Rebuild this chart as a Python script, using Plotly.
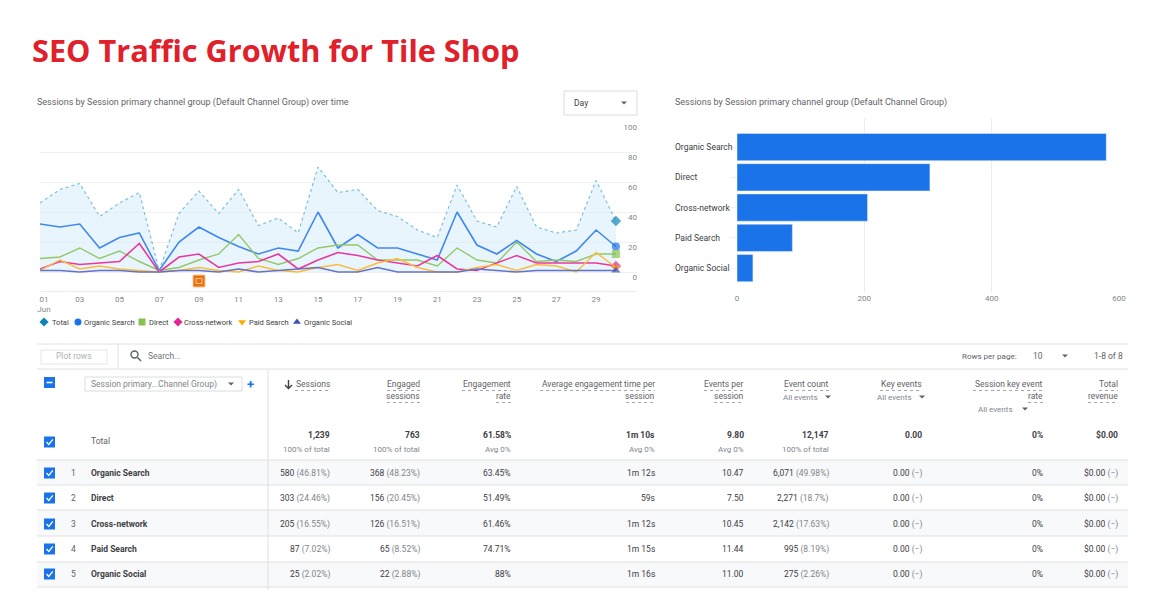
"""
GA4 traffic report screenshot rebuilt in Plotly
Line chart, bar chart and the channel table below them
"""

import plotly.graph_objects as go

# Line chart data
days = list(range(1, 31))
day_ticks = list(range(1, 30, 2))
day_labels = ["\u00a0\u00a0\u00a0\u00a001<br>\u00a0\u00a0\u00a0\u00a0Jun", "03", "05", "07", "09", "11", "13", "15", "17", "19", "21", "23", "25", "27", "29"]
total = [46, 55, 59, 37, 46, 53, 1, 39, 54, 39, 55, 31, 36, 26, 70, 53, 55, 41, 37, 28, 23, 58, 34, 30, 57, 30, 26, 28, 61, 34]
organic_search = [32, 30, 32, 16, 23, 26, 1, 20, 30, 23, 17, 12, 16, 14, 40, 16, 25, 16, 16, 12, 8, 40, 18, 12, 21, 12, 7, 14, 28, 17]
direct = [9, 10, 16, 9, 14, 7, 1, 3, 8, 12, 25, 9, 5, 9, 16, 18, 18, 8, 8, 8, 4, 16, 8, 6, 20, 7, 8, 7, 12, 12]
cross_network = [2, 7, 5, 6, 7, 19, 0, 10, 12, 3, 6, 7, 12, 2, 8, 13, 11, 8, 6, 4, 11, 2, 1, 6, 11, 6, 6, 6, 6, 4]
paid_search = [1, 8, 2, 4, 2, 1, 0, 1, 3, 1, 0, 4, 1, 0, 3, 5, 1, 6, 9, 3, 0, 0, 3, 5, 1, 5, 4, 0, 13, 3]
organic_social = [1, 1, 0, 1, 1, 0, 0, 1, 1, 0, 2, 0, 1, 2, 3, 0, 0, 3, 0, 0, 0, 0, 2, 1, 0, 1, 1, 1, 1, 1]

# Bar chart data
channels = ["Organic Search", "Direct", "Cross-network", "Paid Search", "Organic Social"]
channel_sessions = [580, 303, 205, 87, 25]

# Table data
col_right = [330, 420, 511, 655, 744, 829, 922, 1043, 1118]
totals_main = ["1,239", "763", "61.58%", "1m 10s", "9.80", "12,147", "0.00", "0%", "$0.00"]
totals_sub = ["100% of total", "100% of total", "Avg 0%", "Avg 0%", "Avg 0%", "100% of total", "", "", ""]
sessions_col = [("580", "46.81%"), ("303", "24.46%"), ("205", "16.55%"), ("87", "7.02%"), ("25", "2.02%")]
engaged_col = [("368", "48.23%"), ("156", "20.45%"), ("126", "16.51%"), ("65", "8.52%"), ("22", "2.88%")]
rate_col = ["63.45%", "51.49%", "61.46%", "74.71%", "88%"]
time_col = ["1m 12s", "59s", "1m 12s", "1m 15s", "1m 16s"]
per_session_col = ["10.47", "7.50", "10.45", "11.44", "11.00"]
events_col = [("6,071", "49.98%"), ("2,271", "18.7%"), ("2,142", "17.63%"), ("995", "8.19%"), ("275", "2.26%")]

W, H = 1170, 593
DARK = "#3c4043"
GREY = "#80868b"
BLUE = "#1a73e8"
FONT = "Roboto"

fig = go.Figure()
shapes = []
notes = []


def text(x, y, s, size=8.5, color=DARK, anchor="left", bold=False, font=FONT):
    if bold:
        s = f"<b>{s}</b>"
    # annotations carry about 2px of padding, take it back out
    shift = {"left": -2, "right": 2, "center": 0}[anchor]
    notes.append(dict(x=x, y=y, xref="x3", yref="y3", text=s, showarrow=False, xanchor=anchor, xshift=shift,
                      yanchor="middle", font=dict(size=size, color=color, family=font)))


def rect(x0, y0, x1, y1, fill="rgba(0,0,0,0)", line="rgba(0,0,0,0)", width=1):
    shapes.append(dict(type="rect", xref="x3", yref="y3", x0=x0, y0=y0, x1=x1, y1=y1,
                       fillcolor=fill, line=dict(color=line, width=width)))


def hline(x0, x1, y, color="#e0e0e0", width=1, dash="solid"):
    shapes.append(dict(type="line", xref="x3", yref="y3", x0=x0, x1=x1, y0=y, y1=y,
                       line=dict(color=color, width=width, dash=dash)))


def vline(x, y0, y1, color="#e0e0e0", width=1):
    shapes.append(dict(type="line", xref="x3", yref="y3", x0=x, x1=x, y0=y0, y1=y1,
                       line=dict(color=color, width=width)))


def path(d, fill="rgba(0,0,0,0)", line="rgba(0,0,0,0)", width=1):
    shapes.append(dict(type="path", xref="x3", yref="y3", path=d, fillcolor=fill,
                       line=dict(color=line, width=width)))


def caret(x, y, color="#5f6368"):
    path(f"M {x-3},{y-1.5} L {x+3},{y-1.5} L {x},{y+1.5} Z", fill=color)


def checkbox(y):
    rect(44, y - 5.5, 55, y + 5.5, fill=BLUE)
    path(f"M {46.5},{y} L {48.8},{y+2.4} L {52.8},{y-2.6}", line="white", width=1.3)


# Line chart
series = [
    ("Total", total, "#7cbfe0", "#0b84b8", "diamond", 1.2),
    ("Organic Search", organic_search, "#4088ee", BLUE, "circle", 1.6),
    ("Direct", direct, "#93c868", "#87c351", "square", 1.4),
    ("Cross-network", cross_network, "#e8389f", "#e52592", "diamond", 1.6),
    ("Paid Search", paid_search, "#fbbc3c", "#f9ab00", "triangle-down", 1.4),
    ("Organic Social", organic_social, "#6673c4", "#3f51b5", "triangle-up", 1.6),
]
for name, vals, line_color, marker_color, symbol, lw in series:
    fig.add_trace(go.Scatter(
        x=days, y=vals, name=name, mode="lines+markers", xaxis="x", yaxis="y",
        line=dict(color=line_color, width=lw, dash="dot" if name == "Total" else "solid"),
        marker=dict(color=marker_color, symbol=symbol, size=[0] * 29 + [8], line=dict(width=0)),
        fill="tozeroy" if name == "Total" else None,
        fillcolor="rgba(210,235,252,0.5)" if name == "Total" else None,
        showlegend=False,
    ))

# Bar chart
fig.add_trace(go.Bar(x=channel_sessions, y=channels, orientation="h", xaxis="x2", yaxis="y2",
                     marker=dict(color=BLUE), showlegend=False))
for ch in channels:
    notes.append(dict(x=675, y=ch, xref="x3", yref="y2", text=ch, showarrow=False, xanchor="left", xshift=-2,
                      font=dict(size=8.5, color=DARK, family=FONT)))

# Legend strip under the line chart
legend_x = [44, 78, 142, 178, 242, 297]
legend_text_x = [52, 84, 149, 184, 249, 304]
fig.add_trace(go.Scatter(
    x=legend_x, y=[322] * 6, mode="markers", xaxis="x3", yaxis="y3", showlegend=False,
    marker=dict(color=[s[3] for s in series], symbol=[s[4] for s in series], size=7, line=dict(width=0)),
))
for tx, s in zip(legend_text_x, series):
    text(tx, 322, s[0], size=7.5)

# Titles
text(32, 50, "SEO Traffic Growth for Tile Shop", size=30.7, color="#e0202a", bold=True, font="Open Sans")
text(37, 102, "Sessions by Session primary channel group (Default Channel Group) over time", size=9, color="#5f6368")
text(675, 102, "Sessions by Session primary channel group (Default Channel Group)", size=9, color="#5f6368")

# Day dropdown
rect(564, 91, 637, 115, fill="white", line="#dadce0")
text(574, 103, "Day", size=8.5)
caret(624, 103)

# Annotation badge on the line chart
rect(193, 275, 205, 287, fill="#e8710a", line="#f5c9a0")
rect(196, 278.5, 202, 283.5, line="#f9d9bb", width=0.8)

# Table toolbar
hline(37, 1128, 344)
hline(37, 1128, 369)
vline(118, 344, 369)
rect(41, 350, 107, 364, fill="white", line="#e6e6e6")
text(74, 356, "Plot rows", size=8.5, color="#b0b3b8", anchor="center")
shapes.append(dict(type="circle", xref="x3", yref="y3", x0=131, x1=138, y0=351, y1=358,
                   line=dict(color="#5f6368", width=1.4)))
path("M 137.5,357.5 L 141,361", line="#5f6368", width=1.6)
text(148, 356, "Search...", size=8.5, color="#6f7478")
text(962, 356, "Rows per page:", size=8, color="#5f6368")
text(1033, 356, "10", size=8.5, color="#5f6368")
caret(1065, 356)
text(1123, 356, "1-8 of 8", size=8.5, color="#5f6368", anchor="right")

# Table header
rect(44, 377, 55, 388, fill=BLUE)
hline(46.5, 52.5, 382.5, color="white", width=1.6)
rect(85, 377, 242, 391, fill="white", line="#dadce0")
text(91, 384, "Session primary...Channel Group)", size=8.5, color="#80868b")
caret(231, 384)
text(250, 384, "+", size=13, color=BLUE, anchor="center", bold=True)
path("M 288.5,380 L 288.5,388 M 285,385 L 288.5,388.5 L 292,385", line="#3c4043", width=1.4)

header_lines = [
    ("Sessions", 330, 384, 295), ("Engaged", 420, 384, 387), ("sessions", 420, 396, 387),
    ("Engagement", 511, 384, 462), ("rate", 511, 396, 496),
    ("Average engagement time per", 655, 384, 540), ("session", 655, 396, 626),
    ("Events per", 744, 384, 704), ("session", 744, 396, 714),
    ("Event count", 829, 384, 784), ("Key events", 922, 384, 880),
    ("Session key event", 1043, 384, 973), ("rate", 1043, 396, 1028),
    ("Total", 1118, 384, 1099), ("revenue", 1118, 396, 1088),
]
for label, right, y, left in header_lines:
    text(right, y, label, color="#5f6368", anchor="right")
    hline(left, right, y + 6.5, color="#8a8f94", width=0.8, dash="dot")

for right, caret_x, y in [(818, 828, 397), (912, 922, 397), (1013, 1025, 409)]:
    text(right, y, "All events", size=8, color=GREY, anchor="right")
    caret(caret_x, y)

# Total row
checkbox(442)
text(91, 441, "Total", color="#5f6368")
for right, main, sub in zip(col_right, totals_main, totals_sub):
    text(right, 435, main, anchor="right", bold=True)
    if sub:
        text(right, 449, sub, size=8, color=GREY, anchor="right")

# Channel rows
row_y = [473, 498, 524, 549, 574]
row_bg = [(460, 485), (510, 536), (562, 587)]
for y0, y1 in row_bg:
    rect(37, y0, 1128, y1, fill="#f8f9fa")
for y in [460, 485, 510, 536, 562, 587]:
    hline(37, 1128, y)
vline(268, 369, 590)

for i, y in enumerate(row_y):
    checkbox(y)
    text(73.5, y, str(i + 1), color="#5f6368", anchor="center")
    text(91, y, channels[i], bold=True)
    cells = [
        f"{sessions_col[i][0]} <span style='color:{GREY}'>({sessions_col[i][1]})</span>",
        f"{engaged_col[i][0]} <span style='color:{GREY}'>({engaged_col[i][1]})</span>",
        rate_col[i],
        time_col[i],
        per_session_col[i],
        f"{events_col[i][0]} <span style='color:{GREY}'>({events_col[i][1]})</span>",
        f"0.00 <span style='color:{GREY}'>(−)</span>",
        "0%",
        f"$0.00 <span style='color:{GREY}'>(−)</span>",
    ]
    for right, cell in zip(col_right, cells):
        text(right, y, cell, anchor="right")

fig.update_layout(
    width=W, height=H, margin=dict(l=0, r=0, t=0, b=0, pad=0),
    paper_bgcolor="white", plot_bgcolor="rgba(0,0,0,0)", bargap=0.1,
    shapes=shapes, annotations=notes,
    xaxis=dict(domain=[40 / W, 637 / W], range=[1, 31.06], tickvals=day_ticks, ticktext=day_labels,
               showgrid=False, zeroline=False, showline=True, linecolor="#ececec", ticks="", automargin=False,
               tickfont=dict(size=8, color="#80868b", family=FONT)),
    yaxis=dict(domain=[1 - 291 / H, 1 - 121 / H], range=[-12.67, 100.67], side="right", anchor="x",
               tickvals=[0, 20, 40, 60, 80, 100], ticklabelposition="inside", ticklabelshift=5,
               ticklabelstandoff=-3, automargin=False,
               gridcolor="#f0f0f0", zeroline=False, showline=False,
               tickfont=dict(size=8, color="#80868b", family=FONT)),
    xaxis2=dict(domain=[737 / W, 1119 / W], range=[0, 600], tickvals=[0, 200, 400, 600], anchor="y2", automargin=False,
                gridcolor="#ededed", zeroline=False, showline=False,
                tickfont=dict(size=8, color="#80868b", family=FONT)),
    yaxis2=dict(domain=[1 - 292 / H, 1 - 118 / H], range=[4.79, -0.96], anchor="x2", type="category", automargin=False,
                categoryorder="array", categoryarray=channels, showticklabels=False,
                showgrid=False, zeroline=False, showline=False, ticks="outside", ticklen=6, tickcolor="#f0f0f0"),
    xaxis3=dict(domain=[0, 1], range=[0, W], visible=False, anchor="y3", automargin=False),
    yaxis3=dict(domain=[0, 1], range=[H, 0], visible=False, anchor="x3", automargin=False),
)

fig.write_html("out.html", config=dict(displayModeBar=False), post_script="document.body.style.margin='0';")
